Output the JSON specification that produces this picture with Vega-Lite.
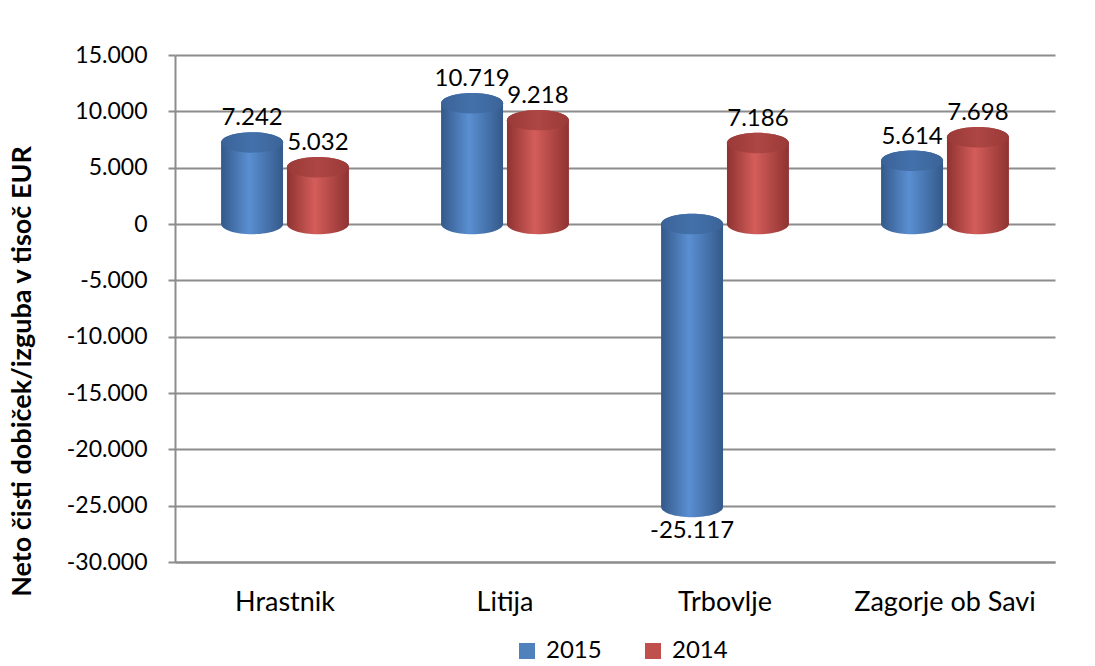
{
  "$schema": "https://vega.github.io/schema/vega-lite/v6.json",
  "width": 880,
  "height": 507,
  "autosize": "none",
  "padding": {"left": 175, "top": 55, "right": 40, "bottom": 104},
  "background": "white",
  "config": {
    "locale": {"number": {"decimal": ",", "thousands": ".", "grouping": [3], "currency": ["", " €"], "minus": "-"}},
    "font": "Lato",
    "view": {"stroke": null}
  },
  "data": {"values": [
    {"obcina": "Hrastnik", "leto": "2015", "value": 7242},
    {"obcina": "Hrastnik", "leto": "2014", "value": 5032},
    {"obcina": "Litija", "leto": "2015", "value": 10719},
    {"obcina": "Litija", "leto": "2014", "value": 9218},
    {"obcina": "Trbovlje", "leto": "2015", "value": -25117},
    {"obcina": "Trbovlje", "leto": "2014", "value": 7186},
    {"obcina": "Zagorje ob Savi", "leto": "2015", "value": 5614},
    {"obcina": "Zagorje ob Savi", "leto": "2014", "value": 7698}
  ]},
  "encoding": {
    "x": {"field": "obcina", "type": "nominal", "sort": null,
      "scale": {"paddingInner": 0.42, "paddingOuter": 0.21},
      "axis": {"title": null, "labelAngle": 0, "labelFontSize": 27, "labelLimit": 0, "labelColor": "#000", "labelPadding": 27, "ticks": false, "domainColor": "#8c8c8c", "domainWidth": 2, "grid": false}},
    "xOffset": {"field": "leto", "type": "nominal", "sort": ["2015", "2014"], "scale": {"paddingInner": 0.06, "paddingOuter": 0}}
  },
  "layer": [
    {
      "mark": {"type": "bar"},
      "encoding": {
        "y": {"field": "value", "type": "quantitative",
          "scale": {"domain": [-30000, 15000], "nice": false, "zero": false},
          "axis": {"values": [-30000, -25000, -20000, -15000, -10000, -5000, 0, 5000, 10000, 15000], "labelExpr": "format(datum.value, ',')",
            "title": "Neto čisti dobiček/izguba v tisoč EUR", "titleFontSize": 27, "titleFontWeight": "bold", "titleColor": "#000",
            "titleX": -153, "titleY": 316, "titleAngle": -90, "titleAlign": "center", "titleBaseline": "middle",
            "labelFontSize": 23, "labelColor": "#000", "labelPadding": 21, "tickSize": 7, "tickColor": "#8c8c8c", "tickWidth": 2,
            "domainColor": "#8c8c8c", "domainWidth": 2, "gridColor": "#8c8c8c", "gridWidth": 2}},
        "y2": {"datum": 0},
        "color": {"field": "leto", "type": "nominal", "sort": ["2015", "2014"],
          "scale": {"domain": ["2015", "2014"], "range": ["#4f81bd", "#c0504d"]},
          "legend": {"title": null, "orient": "none", "direction": "horizontal", "legendX": 340, "legendY": 584,
            "symbolType": "square", "symbolSize": 256, "symbolStrokeWidth": 0, "labelFontSize": 24, "labelColor": "#000", "columnPadding": 39, "labelOffset": 7}}
      }
    },
    {
      "mark": {"type": "point", "shape": "M-1,0A1,0.33 0 1,0 1,0A1,0.33 0 1,0 -1,0Z", "size": 3844, "filled": true, "opacity": 1},
      "encoding": {
        "y": {"datum": 0, "type": "quantitative"},
        "fill": {"condition": {"test": "datum.leto == '2015'", "value": {"gradient": "linear", "x1": 0, "x2": 1, "y1": 0, "y2": 0, "stops": [{"offset": 0, "color": "#34598a"}, {"offset": 0.45, "color": "#5a8fd2"}, {"offset": 1, "color": "#34598a"}]}},
          "value": {"gradient": "linear", "x1": 0, "x2": 1, "y1": 0, "y2": 0, "stops": [{"offset": 0, "color": "#8e3331"}, {"offset": 0.45, "color": "#d45d5a"}, {"offset": 1, "color": "#8e3331"}]}}
      }
    },
    {
      "mark": {"type": "point", "shape": "M-1,0A1,0.33 0 1,0 1,0A1,0.33 0 1,0 -1,0Z", "size": 3844, "filled": true, "opacity": 1},
      "encoding": {
        "y": {"field": "value", "type": "quantitative"},
        "fill": {"condition": {"test": "datum.leto == '2015'", "value": {"gradient": "linear", "x1": 0, "x2": 1, "y1": 0, "y2": 0, "stops": [{"offset": 0, "color": "#34598a"}, {"offset": 0.45, "color": "#5a8fd2"}, {"offset": 1, "color": "#34598a"}]}},
          "value": {"gradient": "linear", "x1": 0, "x2": 1, "y1": 0, "y2": 0, "stops": [{"offset": 0, "color": "#8e3331"}, {"offset": 0.45, "color": "#d45d5a"}, {"offset": 1, "color": "#8e3331"}]}}
      }
    },
    {
      "mark": {"type": "bar"},
      "encoding": {
        "y": {"field": "value", "type": "quantitative"},
        "y2": {"datum": 0},
        "fill": {"condition": {"test": "datum.leto == '2015'", "value": {"gradient": "linear", "x1": 0, "x2": 1, "y1": 0, "y2": 0, "stops": [{"offset": 0, "color": "#34598a"}, {"offset": 0.45, "color": "#5a8fd2"}, {"offset": 1, "color": "#34598a"}]}},
          "value": {"gradient": "linear", "x1": 0, "x2": 1, "y1": 0, "y2": 0, "stops": [{"offset": 0, "color": "#8e3331"}, {"offset": 0.45, "color": "#d45d5a"}, {"offset": 1, "color": "#8e3331"}]}}
      }
    },
    {
      "transform": [{"filter": "datum.value > 0"}],
      "mark": {"type": "point", "shape": "M-1,0A1,0.33 0 1,0 1,0A1,0.33 0 1,0 -1,0Z", "size": 3844, "filled": true, "opacity": 1},
      "encoding": {
        "y": {"field": "value", "type": "quantitative"},
        "fill": {"condition": {"test": "datum.leto == '2015'", "value": {"gradient": "linear", "x1": 0, "x2": 1, "y1": 0, "y2": 0, "stops": [{"offset": 0, "color": "#3a6398"}, {"offset": 0.5, "color": "#4471ab"}, {"offset": 1, "color": "#3a6398"}]}},
          "value": {"gradient": "linear", "x1": 0, "x2": 1, "y1": 0, "y2": 0, "stops": [{"offset": 0, "color": "#9a3a38"}, {"offset": 0.5, "color": "#ad4644"}, {"offset": 1, "color": "#9a3a38"}]}}
      }
    },
    {
      "transform": [{"filter": "datum.value < 0"}],
      "mark": {"type": "point", "shape": "M-1,0A1,0.33 0 1,0 1,0A1,0.33 0 1,0 -1,0Z", "size": 3844, "filled": true, "opacity": 1},
      "encoding": {
        "y": {"datum": 0, "type": "quantitative"},
        "fill": {"condition": {"test": "datum.leto == '2015'", "value": {"gradient": "linear", "x1": 0, "x2": 1, "y1": 0, "y2": 0, "stops": [{"offset": 0, "color": "#3a6398"}, {"offset": 0.5, "color": "#4471ab"}, {"offset": 1, "color": "#3a6398"}]}},
          "value": {"gradient": "linear", "x1": 0, "x2": 1, "y1": 0, "y2": 0, "stops": [{"offset": 0, "color": "#9a3a38"}, {"offset": 0.5, "color": "#ad4644"}, {"offset": 1, "color": "#9a3a38"}]}}
      }
    },
    {
      "transform": [{"filter": "datum.value > 0"}],
      "mark": {"type": "text", "baseline": "bottom", "dy": -12, "fontSize": 24, "color": "#000"},
      "encoding": {
        "y": {"field": "value", "type": "quantitative"},
        "text": {"field": "value", "type": "quantitative", "format": ","}
      }
    },
    {
      "transform": [{"filter": "datum.value < 0"}],
      "mark": {"type": "text", "baseline": "top", "dy": 12, "fontSize": 24, "color": "#000"},
      "encoding": {
        "y": {"field": "value", "type": "quantitative"},
        "text": {"field": "value", "type": "quantitative", "format": ","}
      }
    }
  ]
}
